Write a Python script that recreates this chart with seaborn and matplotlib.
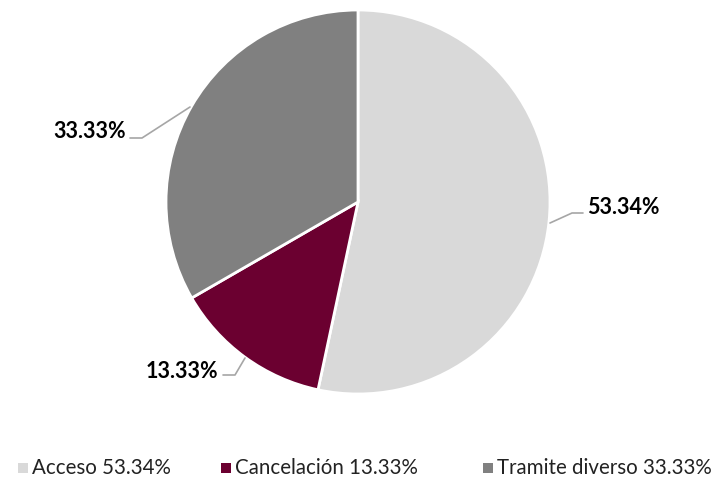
import matplotlib
matplotlib.use("Agg")
import matplotlib.pyplot as plt
import seaborn as sns
from matplotlib.patches import Rectangle

categories = ["Acceso", "Cancelación", "Tramite diverso"]
values = [53.34, 13.33, 33.33]
colors = ["#D9D9D9", "#6B0030", "#808080"]

sns.set_theme(style="white")
plt.rcParams['font.family'] = ['Lato', 'DejaVu Sans']

fig = plt.figure(figsize=(7.19, 4.94), dpi=100)
cx, cy, R = 358, 202, 192
W, H = 719, 494
ax = fig.add_axes([(cx - R) / W, (H - cy - R) / H, 2 * R / W, 2 * R / H])
ax.pie(values, colors=colors, startangle=90, counterclock=False, radius=1,
       wedgeprops=dict(edgecolor="white", linewidth=2))
ax.set_xlim(-1, 1)
ax.set_ylim(-1, 1)
ax.set_aspect("equal")
ax.axis("off")

def d(px, py):
    return ((px - cx) / R, (cy - py) / R)

# leader lines and labels (order: Acceso, Cancelación, Tramite diverso)
lines = [
    [(550, 223), (572, 213), (583, 213)],
    [(245, 358), (235, 375), (223, 375)],
    [(190, 107), (142, 138), (130, 138)],
]
label_pos = [((587, 207), "left"), ((218, 371), "right"), ((126, 131), "right")]
for ln, (pos, ha), v in zip(lines, label_pos, values):
    pts = [d(*p) for p in ln]
    ax.plot([p[0] for p in pts], [p[1] for p in pts], color="#A6A6A6", lw=1.2,
            clip_on=False)
    x, y = d(*pos)
    ax.text(x, y, f"{v:.2f}%", ha=ha, va="center", fontsize=15.5,
            fontweight="bold", color="black", clip_on=False)

# legend
leg_x = [18, 221, 483]
leg_y = 468
sq = 10
for x0, c, cat, v in zip(leg_x, colors, categories, values):
    fig.patches.append(Rectangle((x0 / W, (H - leg_y - sq / 2) / H), sq / W, sq / H,
                                 transform=fig.transFigure, facecolor=c,
                                 edgecolor="none"))
    fig.text((x0 + 14) / W, (H - leg_y) / H, f"{cat} {v:.2f}%", ha="left",
             va="center", fontsize=14.8, color="#222222")

fig.savefig("out.png", dpi=100)
